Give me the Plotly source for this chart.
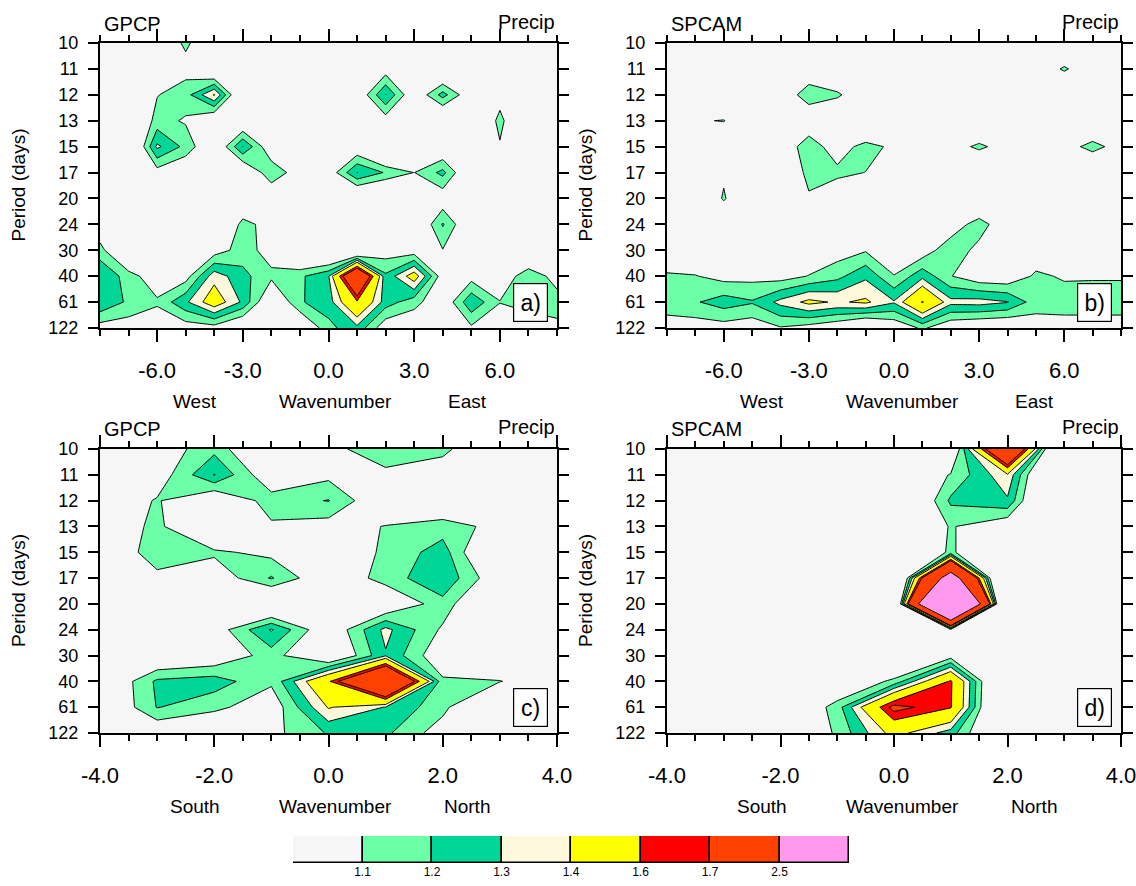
import plotly.graph_objects as go

W, H = 1136, 886
FONT = "Liberation Sans, Arial, Helvetica, sans-serif"

# ---------------- data ----------------
PERIOD_LABELS = ["10", "11", "12", "13", "15", "17", "20", "24", "30", "40", "61", "122"]
ZONAL_WAVENUMBER = list(range(-8, 9))
MERID_WAVENUMBER = list(range(-4, 5))
ZONAL_TICKS = [-6, -3, 0, 3, 6]
MERID_TICKS = [-4, -2, 0, 2, 4]
LEVELS = [1.1, 1.2, 1.3, 1.4, 1.6, 1.7, 2.5]
LEVEL_LABELS = ["1.1", "1.2", "1.3", "1.4", "1.6", "1.7", "2.5"]
FILL_COLORS = ["#F6F6F6", "#6BFFA8", "#00D696", "#FDF8DC", "#FFFF00",
               "#FF0000", "#FF4000", "#FF99EE"]

# rows: periods 10 ... 122 days; columns: zonal wavenumber -8 ... 8
GPCP_ZONAL = [
    [1.0, 1.0, 1.0, 1.12, 1.0, 1.0, 1.0, 1.0, 1.0, 1.0, 1.0, 1.0, 1.0, 1.0, 1.0, 1.0, 1.0],
    [1.0, 1.0, 1.0, 1.06, 0.9, 1.0, 1.0, 1.0, 1.0, 1.0, 1.04, 1.0, 0.9, 1.0, 1.0, 1.0, 1.0],
    [1.0, 0.95, 1.095, 1.155, 1.41, 0.89, 1.0, 1.0, 1.0, 0.99, 1.302, 0.99, 1.24, 1.0, 1.055, 1.0, 1.0],
    [1.0, 0.92, 1.14, 1.087, 0.95, 0.96, 1.0, 1.0, 1.0, 1.0, 1.04, 1.0, 0.9, 0.93, 1.13, 0.93, 1.0],
    [1.0, 0.85, 1.32, 1.17, 0.96, 1.302, 1.0, 1.0, 1.0, 1.0, 0.8, 1.0, 0.97, 1.0, 1.09, 1.0, 1.0],
    [1.0, 1.0, 1.05, 0.98, 1.0, 0.95, 1.18, 1.03, 1.02, 1.302, 1.19, 1.098, 1.23, 0.94, 1.0, 1.0, 1.0],
    [1.0, 1.0, 1.0, 1.0, 1.0, 0.95, 0.98, 1.0, 1.0, 0.9, 0.85, 1.0, 1.02, 1.0, 1.0, 1.0, 1.0],
    [0.98, 1.0, 1.0, 1.0, 0.87, 1.14, 1.05, 1.0, 1.0, 1.0, 1.0, 0.94, 1.21, 0.966, 1.0, 1.0, 1.0],
    [1.15, 0.85, 0.95, 0.95, 1.04, 1.15, 1.05, 0.86, 0.85, 0.8, 1.04, 1.03, 1.095, 1.0, 1.0, 0.9, 0.95],
    [1.28, 1.16, 1.005, 1.05, 1.36, 1.23, 1.125, 1.18, 1.29, 2.1, 1.22, 1.47, 1.03, 1.055, 1.0, 1.18, 1.05],
    [1.29, 1.18, 1.12, 1.28, 1.48, 1.28, 0.95, 1.19, 1.25, 1.58, 1.25, 1.14, 1.0, 1.28, 1.105, 1.15, 1.15],
    [1.05, 1.04, 1.0, 1.04, 1.05, 0.95, 0.95, 0.95, 1.17, 1.27, 1.02, 1.0, 1.0, 1.08, 0.98, 1.02, 1.07],
]

SPCAM_ZONAL = [
    [1.0, 1.0, 1.0, 1.0, 1.0, 1.0, 1.0, 1.0, 1.0, 1.0, 1.0, 1.0, 1.0, 1.0, 1.0, 1.0, 1.0],
    [1.0, 1.0, 1.0, 1.0, 1.0, 1.01, 0.95, 1.0, 1.0, 1.0, 1.0, 1.0, 1.0, 1.043, 1.11, 1.043, 1.0],
    [1.0, 1.0, 0.95, 1.0, 1.014, 1.16, 1.12, 1.0, 1.0, 1.0, 1.0, 1.0, 1.0, 1.0, 1.0, 1.0, 1.0],
    [1.0, 1.09, 1.105, 1.0, 1.0, 1.0, 0.95, 0.85, 1.0, 1.0, 1.0, 1.03, 1.0, 1.0, 1.0, 0.94, 1.0],
    [1.0, 1.0, 0.95, 1.0, 1.0, 1.17, 1.03, 1.15, 1.07, 1.0, 1.077, 1.11, 1.077, 1.0, 1.047, 1.14, 1.047],
    [1.0, 1.0, 1.085, 1.0, 0.9, 1.15, 1.13, 1.098, 1.0, 1.0, 1.0, 1.03, 1.0, 1.0, 1.0, 0.94, 1.0],
    [1.0, 0.98, 1.11, 0.98, 1.0, 1.08, 1.0, 1.0, 1.0, 1.0, 1.0, 0.9, 1.0, 1.0, 1.0, 1.0, 1.0],
    [1.0, 1.0, 1.0, 1.0, 1.0, 1.0, 1.0, 1.0, 1.0, 1.0, 1.02, 1.16, 0.99, 1.0, 1.0, 1.0, 1.0],
    [0.9, 1.0, 1.0, 1.0, 1.0, 1.0, 1.045, 1.09, 1.0, 1.03, 1.18, 1.06, 1.0, 1.02, 1.0, 1.0, 1.0],
    [1.13, 1.105, 1.06, 1.066, 1.05, 1.105, 1.17, 1.28, 1.105, 1.27, 1.105, 1.02, 1.01, 1.12, 1.0875, 1.09, 1.09],
    [1.15, 1.19, 1.25, 1.21, 1.33, 1.43, 1.385, 1.42, 1.31, 1.61, 1.33, 1.34, 1.305, 1.146, 1.15, 1.15, 1.15],
    [1.05, 1.04, 1.05, 1.027, 1.09, 1.05, 1.0, 0.9, 1.0, 1.12, 1.0, 0.97, 0.96, 1.044, 1.05, 1.05, 1.05],
]

# rows: periods; columns: meridional wavenumber -4 ... 4
GPCP_MERID = [
    [1.0, 1.024, 1.17, 0.9, 1.08, 1.14, 1.12, 1.0, 1.0],
    [1.0, 1.03, 1.305, 1.0, 1.07, 1.084, 1.053, 1.0, 1.0],
    [1.0, 1.11, 0.97, 1.15, 1.205, 0.978, 0.965, 1.0, 1.0],
    [1.0, 1.13, 0.9, 1.084, 1.048, 1.105, 1.15, 1.064, 1.0],
    [1.0, 1.15, 1.12, 1.067, 1.0, 1.12, 1.25, 0.845, 1.0],
    [1.0, 1.076, 1.02, 1.21, 0.986, 1.15, 1.28, 1.0, 1.0],
    [1.0, 1.0, 1.0, 0.87, 1.0, 0.964, 1.167, 0.85, 1.0],
    [1.0, 1.0, 1.03, 1.31, 0.99, 1.33, 1.08, 0.9, 1.0],
    [1.0, 0.95, 1.0, 1.15, 0.92, 1.29, 1.0, 0.95, 1.0],
    [0.94, 1.22, 1.25, 1.12, 1.58, 2.3, 1.12, 1.105, 1.0],
    [0.94, 1.205, 1.13, 1.02, 1.41, 1.295, 1.133, 0.85, 1.0],
    [1.0, 0.995, 0.95, 1.067, 1.21, 1.22, 1.04, 1.0, 1.0],
]

SPCAM_MERID = [
    [1.0, 1.0, 1.0, 1.0, 1.0, 0.9, 2.2, 0.55, 1.0],
    [1.0, 1.0, 1.0, 1.0, 0.9, 1.11, 1.38, 0.6, 1.0],
    [1.0, 1.0, 1.0, 1.0, 0.8, 1.22, 1.286, 0.6, 1.0],
    [1.0, 1.0, 1.0, 1.0, 0.9, 1.11, 1.0, 1.0, 1.0],
    [1.0, 1.0, 1.0, 1.0, 0.9, 1.12, 0.9, 1.0, 1.0],
    [1.0, 1.0, 1.0, 1.0, 0.55, 2.9, 0.3, 1.0, 1.0],
    [1.0, 1.0, 1.0, 1.0, 0.6, 5.0, 0.2, 1.0, 1.0],
    [1.0, 1.0, 1.0, 1.0, 1.0, 1.05, 1.0, 1.0, 1.0],
    [1.0, 1.0, 1.0, 1.0, 0.85, 1.04, 0.9, 1.0, 1.0],
    [1.0, 1.0, 1.0, 0.95, 1.13, 1.62, 0.67, 1.0, 1.0],
    [1.0, 1.0, 0.9, 1.15, 1.75, 1.61, 0.65, 1.0, 1.0],
    [1.0, 1.0, 0.9, 1.12, 1.45, 1.25, 0.8, 1.0, 1.0],
]

# ---------------- layout helpers ----------------
def fx(p):
    return p / W


def fy(p):
    return 1 - p / H


PANELS = [
    dict(z=GPCP_ZONAL, x=ZONAL_WAVENUMBER, ticks=ZONAL_TICKS, minor=1, box=(100, 557, 43, 328),
         name="GPCP", letter="a)", words=("West", "Wavenumber", "East")),
    dict(z=SPCAM_ZONAL, x=ZONAL_WAVENUMBER, ticks=ZONAL_TICKS, minor=1, box=(667, 1121, 43, 328),
         name="SPCAM", letter="b)", words=("West", "Wavenumber", "East")),
    dict(z=GPCP_MERID, x=MERID_WAVENUMBER, ticks=MERID_TICKS, minor=0.5, box=(100, 557, 449, 733),
         name="GPCP", letter="c)", words=("South", "Wavenumber", "North")),
    dict(z=SPCAM_MERID, x=MERID_WAVENUMBER, ticks=MERID_TICKS, minor=0.5, box=(667, 1121, 449, 733),
         name="SPCAM", letter="d)", words=("South", "Wavenumber", "North")),
]

fig = go.Figure()
annotations = []
rows = list(range(len(PERIOD_LABELS)))

for i, p in enumerate(PANELS, start=1):
    xref = "x" if i == 1 else f"x{i}"
    yref = "y" if i == 1 else f"y{i}"
    xname = "xaxis" if i == 1 else f"xaxis{i}"
    yname = "yaxis" if i == 1 else f"yaxis{i}"
    x0, x1, y0, y1 = p["box"]

    for lev, col in zip(LEVELS, FILL_COLORS[1:]):
        fig.add_trace(go.Contour(
            x=p["x"], y=rows, z=p["z"], xaxis=xref, yaxis=yref,
            autocontour=False,
            contours=dict(start=lev, end=lev, size=1, coloring="fill", showlines=True),
            colorscale=[[0, "rgba(0,0,0,0)"], [1, col]],
            showscale=False,
            line=dict(color="black", width=1, smoothing=0),
            hoverinfo="skip",
        ))

    fig.layout[xname] = dict(
        domain=[fx(x0), fx(x1)], anchor=yref, automargin=False,
        range=[p["x"][0], p["x"][-1]],
        tickmode="array", tickvals=p["ticks"],
        ticktext=[f"{v:.1f}" for v in p["ticks"]],
        ticks="outside", ticklen=12, tickwidth=2, tickcolor="black",
        minor=dict(dtick=p["minor"], tick0=0, ticks="outside", ticklen=6,
                   tickwidth=2, tickcolor="black", showgrid=False),
        showline=True, linewidth=2, linecolor="black", mirror="ticks",
        showgrid=False, zeroline=False,
        tickfont=dict(family=FONT, size=22, color="black"),
        ticklabelstandoff=10, ticklabeloverflow="allow",
    )
    fig.layout[yname] = dict(
        domain=[fy(y1), fy(y0)], anchor=xref, automargin=False,
        range=[len(PERIOD_LABELS) - 1, 0],
        tickmode="array", tickvals=rows, ticktext=PERIOD_LABELS,
        ticks="outside", ticklen=10, tickwidth=2, tickcolor="black",
        showline=True, linewidth=2, linecolor="black", mirror="ticks",
        showgrid=False, zeroline=False,
        tickfont=dict(family=FONT, size=18, color="black"),
        ticklabelstandoff=6,
    )

    title_y = 24 if y0 < 300 else y0 - 20
    annotations.append(dict(text=p["name"], x=fx(x0 + 2), y=fy(title_y), xref="paper", yref="paper",
                            xanchor="left", yanchor="middle", showarrow=False,
                            font=dict(family=FONT, size=20, color="black")))
    annotations.append(dict(text="Precip", x=fx(x1), y=fy(title_y - 2), xref="paper", yref="paper",
                            xanchor="right", yanchor="middle", showarrow=False,
                            font=dict(family=FONT, size=20, color="black")))
    annotations.append(dict(text="Period (days)", x=fx(x0 - 82), y=fy((y0 + y1) / 2),
                            xref="paper", yref="paper", xanchor="center", yanchor="middle",
                            textangle=-90, showarrow=False,
                            font=dict(family=FONT, size=19, color="black")))
    for word, off in zip(p["words"], (95, 235, 367)):
        annotations.append(dict(text=word, x=fx(x0 + off), y=fy(y1 + 73),
                                xref="paper", yref="paper", xanchor="center", yanchor="middle",
                                showarrow=False, font=dict(family=FONT, size=19, color="black")))
    annotations.append(dict(text=p["letter"], x=fx(x1 - 9), y=fy(y1 - 6), xref="paper", yref="paper",
                            xanchor="right", yanchor="bottom", showarrow=False,
                            width=33, height=37, bgcolor="white", bordercolor="black",
                            borderwidth=1.2, borderpad=0,
                            font=dict(family=FONT, size=23, color="black")))

# ---------------- label bar ----------------
fig.add_trace(go.Bar(
    x=[1] * len(FILL_COLORS), y=[0] * len(FILL_COLORS),
    base=list(range(len(FILL_COLORS))), orientation="h", width=1,
    marker=dict(color=FILL_COLORS, line=dict(color="black", width=1.5)),
    xaxis="x5", yaxis="y5", hoverinfo="skip", showlegend=False,
))
fig.layout["xaxis5"] = dict(
    domain=[fx(293), fx(849)], anchor="y5", range=[0, len(FILL_COLORS)], automargin=False,
    tickmode="array", tickvals=list(range(1, len(FILL_COLORS))), ticktext=LEVEL_LABELS,
    ticks="", showgrid=False, zeroline=False, showline=False,
    tickfont=dict(family=FONT, size=12, color="black"),
)
fig.layout["yaxis5"] = dict(domain=[fy(863), fy(836)], anchor="x5", range=[-0.5, 0.5],
                            visible=False, automargin=False)

fig.update_layout(
    width=W, height=H, autosize=False,
    margin=dict(l=0, r=0, t=0, b=0, pad=0, autoexpand=False),
    paper_bgcolor="white", plot_bgcolor=FILL_COLORS[0],
    showlegend=False, bargap=0,
    annotations=annotations,
    font=dict(family=FONT, color="black"),
)

fig.write_html(
    "out.html",
    config={"displayModeBar": False},
    post_script="document.body.style.margin='0';document.body.style.padding='0';",
)
